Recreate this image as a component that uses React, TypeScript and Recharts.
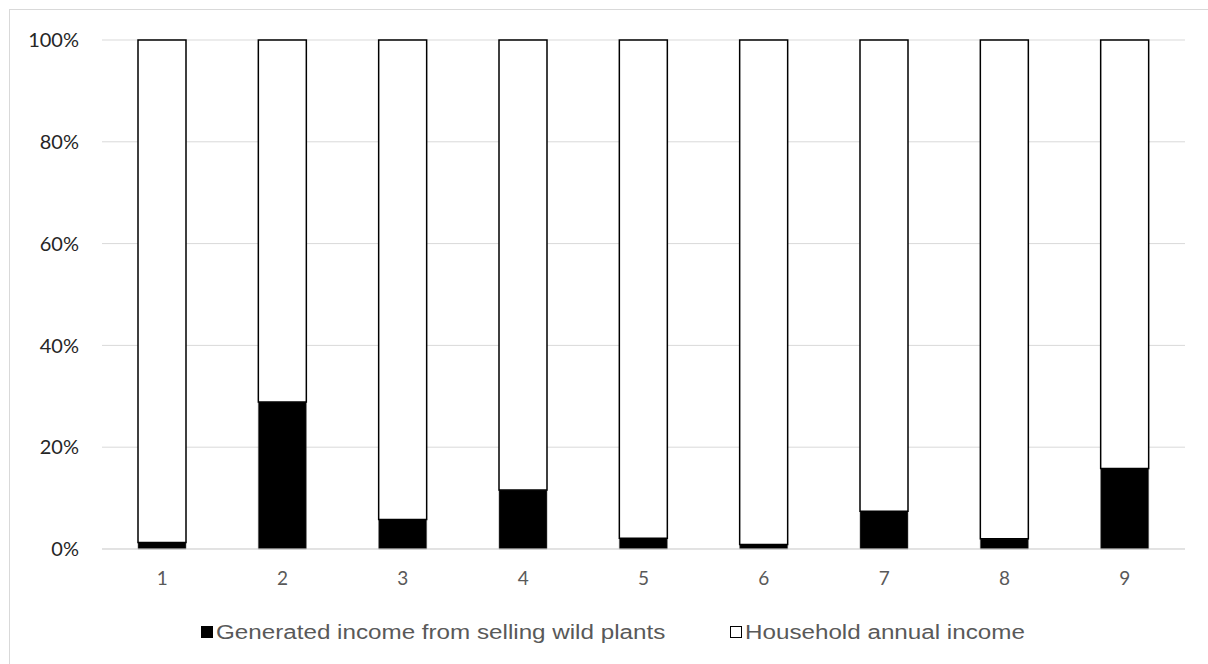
import { BarChart, Bar, XAxis, YAxis, CartesianGrid } from "recharts";

const households = ["1", "2", "3", "4", "5", "6", "7", "8", "9"];
const wildPlantShare = [1.3, 28.9, 5.8, 11.6, 2.1, 0.9, 7.4, 2.0, 15.8];
const householdShare = [98.7, 71.1, 94.2, 88.4, 97.9, 99.1, 92.6, 98.0, 84.2];
const yTicks = [0, 20, 40, 60, 80, 100];

const seriesNames = {
  wild: "Generated income from selling wild plants",
  household: "Household annual income",
};

const data = households.map((h, i) => ({
  name: h,
  wild: wildPlantShare[i],
  household: householdShare[i],
}));

const LegendItem = ({ label, filled, left }: { label: string; filled: boolean; left: number }) => (
  <div
    style={{
      position: "absolute",
      left,
      top: 0,
      display: "flex",
      alignItems: "center",
      whiteSpace: "nowrap",
    }}
  >
    <span
      style={{
        display: "inline-block",
        width: filled ? 12 : 10,
        height: filled ? 12 : 10,
        background: filled ? "#000" : "#fff",
        border: filled ? "none" : "1.5px solid #000",
        marginRight: 3,
      }}
    />
    <span
      style={{
        display: "inline-block",
        fontFamily: "'Liberation Sans', Arial, sans-serif",
        fontSize: 20,
        color: "#595959",
        lineHeight: "26px",
        transform: "scaleX(1.21)",
        transformOrigin: "left center",
      }}
    >
      {label}
    </span>
  </div>
);

const App = () => {
  return (
    <div
      style={{
        position: "absolute",
        left: 9,
        top: 9,
        width: 1200,
        height: 656,
        borderLeft: "1px solid #d9d9d9",
        borderTop: "1px solid #d9d9d9",
        background: "#fff",
      }}
    >
      <BarChart
        width={1190}
        height={640}
        data={data}
        margin={{ top: 30, right: 15, left: 0, bottom: 71 }}
      >
        <CartesianGrid vertical={false} stroke="#d9d9d9" strokeWidth={1} />
        <XAxis
          dataKey="name"
          height={30}
          axisLine={{ stroke: "#d9d9d9" }}
          tickLine={false}
          tickMargin={17}
          tick={{ fill: "#595959", fontSize: 19, fontFamily: "Lato, 'Open Sans', sans-serif" }}
        />
        <YAxis
          width={92}
          domain={[0, 100]}
          ticks={yTicks}
          axisLine={false}
          tickLine={false}
          tickMargin={17}
          tickFormatter={(v: number) => `${v}%`}
          tick={{ fill: "#262626", fontSize: 20, fontFamily: "Lato, 'Open Sans', sans-serif" }}
        />
        <Bar
          dataKey="wild"
          name={seriesNames.wild}
          stackId="a"
          barSize={48}
          fill="#000"
          stroke="#595959"
          strokeWidth={0.5}
          isAnimationActive={false}
        />
        <Bar
          dataKey="household"
          name={seriesNames.household}
          stackId="a"
          barSize={48}
          fill="#fff"
          stroke="#000"
          strokeWidth={1.5}
          isAnimationActive={false}
        />
      </BarChart>
      <div style={{ position: "absolute", left: 0, top: 609, width: 1190, height: 26 }}>
        <LegendItem label={seriesNames.wild} filled left={191} />
        <LegendItem label={seriesNames.household} filled={false} left={720} />
      </div>
    </div>
  );
};

export default App;
